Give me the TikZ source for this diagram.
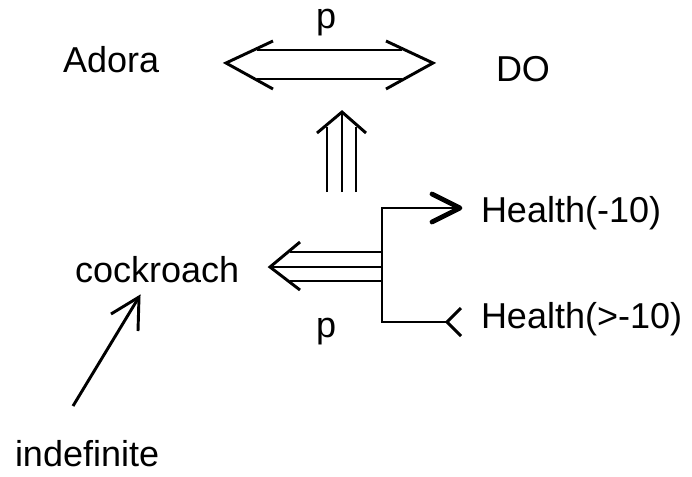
\documentclass[tikz,border=0pt]{standalone}
\usepackage{fontspec}
\setmainfont{Liberation Sans}
\begin{document}
\begin{tikzpicture}[x=0.75pt,y=-0.75pt,
  lbl/.style={anchor=base west,inner sep=0pt,outer sep=0pt,font=\fontsize{27}{32}\selectfont},
  ln/.style={line width=2.2pt,line join=miter,line cap=butt},
  bold/.style={line width=3.6pt,line join=round,line cap=round}]
\useasboundingbox (0,0) rectangle (692,476);
% labels
\node[lbl] (adora) at (63,72) {Adora};
\node[lbl] (do) at (496,81) {DO};
\node[lbl] (ptop) at (316,28) {p};
\node[lbl] (cock) at (75,282) {cockroach};
\node[lbl] (h1) at (481,222) {Health(-10)};
\node[lbl] (h2) at (481,328) {Health(>-10)};
\node[lbl] (pbot) at (316,337) {p};
\node[lbl] (indef) at (15,466) {indefinite};
% double horizontal arrow
\coordinate (dl) at (226,63);
\coordinate (dr) at (433,63);
\draw[ln] (257,50) -- (402,50) (257,79) -- (402,79);
\draw[ln] (273,41) -- (dl) -- (273,89);
\draw[ln] (386,41) -- (dr) -- (386,89);
% triple up arrow
\coordinate (ut) at (342,112);
\coordinate (ub) at (342,192);
\draw[ln] (327,192) -- (327,127) (356,192) -- (356,127) (ub) -- (ut);
\draw[ln] (317,133) -- (ut) -- (366,133);
% fork
\coordinate (ft) at (382,208);
\coordinate (fb) at (382,322);
\coordinate (a1) at (460,208);
\coordinate (a2) at (447,322);
\draw[ln] (a1) -- (ft) -- (fb) -- (a2);
\draw[bold] (432,194) -- (a1) -- (432,222);
\draw[ln] (461,308) -- (a2) -- (461,336);
% triple left arrow
\coordinate (lt) at (270,267);
\coordinate (lm) at (382,267);
\draw[ln] (382,252) -- (290,252) (382,281) -- (290,281) (lm) -- (lt);
\draw[ln] (300,242) -- (lt) -- (300,290);
% indefinite arrow
\coordinate (ia) at (73,406);
\coordinate (ib) at (139,297);
\draw[ln] (ia) -- (ib);
\draw[ln] (111,314) -- (ib) -- (138,331);
\end{tikzpicture}
\end{document}
